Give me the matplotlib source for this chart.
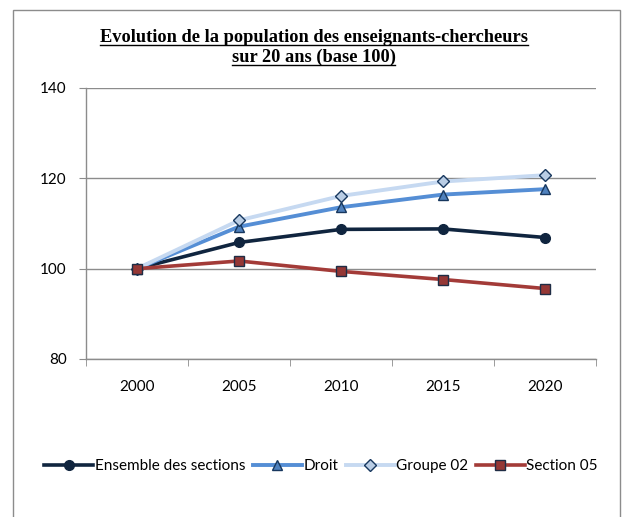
import matplotlib.pyplot as plt
from matplotlib.patches import Rectangle
from matplotlib.lines import Line2D

# data
years = ['2000', '2005', '2010', '2015', '2020']
ensemble = [100, 105.8, 108.7, 108.8, 106.9]
droit = [100, 109.3, 113.6, 116.4, 117.6]
groupe02 = [100, 110.7, 116.1, 119.3, 120.7]
section05 = [100, 101.7, 99.4, 97.6, 95.6]

W, H = 625, 517
fig = plt.figure(figsize=(W / 100, H / 100), dpi=100)

# outer frame of the chart
fig.patches.append(Rectangle((13 / W, -0.01), (620 - 13) / W, 1 - 10 / H + 0.01,
                             transform=fig.transFigure, fill=False,
                             edgecolor='#8c8c8c', linewidth=1.0))

ax = fig.add_axes([86 / W, 1 - 359 / H, (596 - 86) / W, (359 - 88) / H])
x = list(range(len(years)))

ax.plot(x, ensemble, color='#10253f', lw=2.6, marker='o', ms=7,
        mfc='#10253f', mec='#10253f', label='Ensemble des sections', zorder=3)
ax.plot(x, droit, color='#558ed5', lw=2.8, marker='^', ms=7.5,
        mfc='#4f81bd', mec='#17375e', mew=1.0, label='Droit', zorder=3)
ax.plot(x, groupe02, color='#c6d9f1', lw=2.8, marker='D', ms=6,
        mfc='#b9cde5', mec='#17375e', mew=1.0, label='Groupe 02', zorder=3)
ax.plot(x, section05, color='#a33b38', lw=2.6, marker='s', ms=7,
        mfc='#953735', mec='#1f2d45', mew=1.0, label='Section 05', zorder=3)

ax.set_xlim(-0.5, 4.5)
ax.set_ylim(80, 140)
ax.set_yticks([80, 100, 120, 140])
ax.grid(axis='y', color='#8c8c8c', lw=1.0)
ax.set_axisbelow(True)

ax.set_xticks(x)
ax.set_xticklabels(years)
ax.set_xticks([i - 0.5 for i in range(6)], minor=True)
ax.tick_params(axis='x', which='major', length=0, pad=15, labelsize=11)
ax.tick_params(axis='x', which='minor', length=5, color='#8c8c8c', direction='out')
ax.tick_params(axis='y', length=5, color='#8c8c8c', pad=9, labelsize=11)
for lab in ax.get_xticklabels() + ax.get_yticklabels():
    lab.set_fontfamily('Lato')

for s in ['top', 'right']:
    ax.spines[s].set_visible(False)
for s in ['left', 'bottom']:
    ax.spines[s].set_color('#8c8c8c')
    ax.spines[s].set_linewidth(1.0)

# title, two underlined lines
title_lines = ['Evolution de la population des enseignants-chercheurs',
               'sur 20 ans (base 100)']
title_y = [1 - 38 / H, 1 - 57 / H]
texts = []
for t, y in zip(title_lines, title_y):
    texts.append(fig.text(0.5 + 1 / W, y, t, ha='center', va='center',
                          family='Liberation Serif', weight='bold', fontsize=13.2))
fig.canvas.draw()
r = fig.canvas.get_renderer()
for tx in texts:
    bb = tx.get_window_extent(r).transformed(fig.transFigure.inverted())
    yb = bb.y0 + 0.002
    fig.add_artist(Line2D([bb.x0, bb.x1], [yb, yb], transform=fig.transFigure,
                          color='black', lw=1.0))

leg = fig.legend(loc='center', bbox_to_anchor=(321 / W, 1 - 466 / H), ncol=4,
                 frameon=False, handlelength=3.2, handletextpad=0.1,
                 columnspacing=0.5, prop={'family': 'Lato', 'size': 11})

fig.savefig('out.png', dpi=100)
